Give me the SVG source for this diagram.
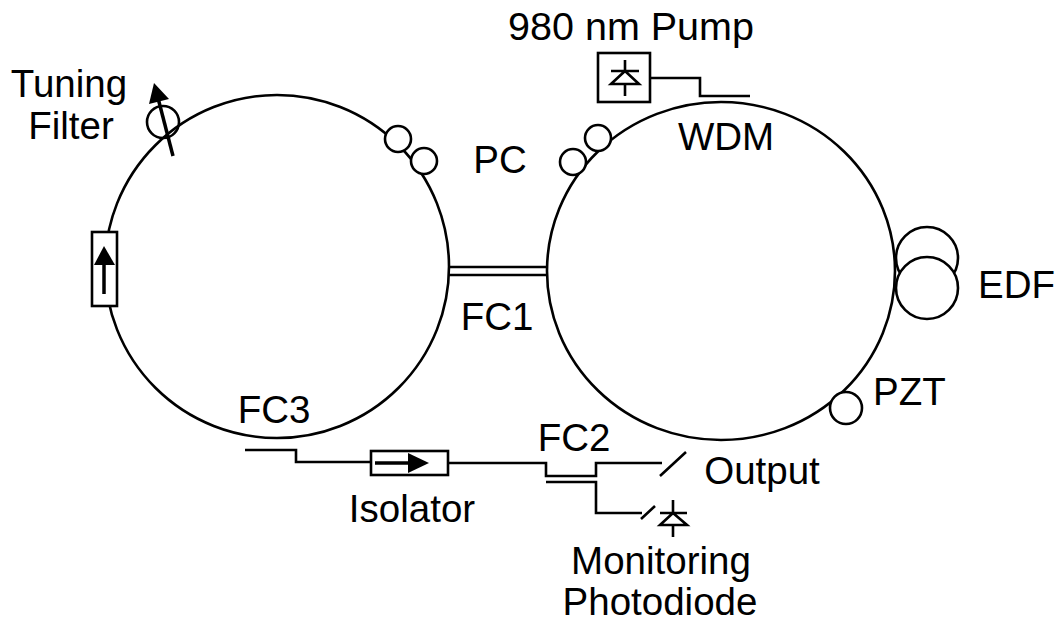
<svg xmlns="http://www.w3.org/2000/svg" width="1060" height="623" viewBox="0 0 1060 623">
<style>
.s{fill:none;stroke:#000;stroke-width:2.600}
.t{fill:none;stroke:#000;stroke-width:3.500}
.n{fill:#fff;stroke:#000;stroke-width:2.600}
.h{fill:#000;stroke:none}
text{font-family:"Liberation Sans",Arial,sans-serif;font-size:38.500px;fill:#000}
</style>
<rect width="1060" height="623" fill="#fff"/>
<g id="connectors">
<ellipse class="s" cx="277" cy="266.500" rx="172" ry="171.500"/>
<ellipse class="s" cx="721" cy="271" rx="174" ry="169"/>
<path class="s" d="M449 267H547M449 275H547"/>
<path class="s" d="M245 450H296V462H371M448 463H546V476H596V463H662M660 476L686 452"/>
<path class="s" d="M546 482H596V513H642M641 519L655 506"/>
<path class="s" d="M650 78H700V96H750"/>
</g>
<g id="tuning-filter"><circle class="s" cx="163" cy="122" r="16"/><path class="t" d="M173 156L158 98"/><path class="h" d="M154 83L169 99L149 104Z"/><text x="69" y="97" text-anchor="middle">Tuning</text><text x="71" y="139" text-anchor="middle">Filter</text></g>
<g id="left-isolator"><rect class="n" x="92" y="232" width="25" height="74"/><path class="t" d="M104 294V260"/><path class="h" d="M104 246L115 265H94Z"/></g>
<g id="pc-left"><circle class="n" cx="398" cy="139" r="13"/><circle class="n" cx="424" cy="161" r="13"/></g>
<g id="pc-right"><circle class="n" cx="598" cy="138" r="13"/><circle class="n" cx="573" cy="162" r="13"/><text x="500" y="173" text-anchor="middle">PC</text></g>
<g id="pump"><rect class="n" x="598" y="53" width="52" height="49"/><path class="s" d="M625 60V71M625 84V96M611 71H639M625 71L611 84H639Z"/><text x="631" y="40" text-anchor="middle" style="font-size:39.500px">980 nm Pump</text></g>
<g id="wdm"><text x="726" y="150" text-anchor="middle">WDM</text></g>
<g id="edf"><circle class="n" cx="927" cy="258" r="31"/><circle class="n" cx="927" cy="288" r="31"/><text x="978" y="298">EDF</text></g>
<g id="pzt"><circle class="n" cx="846" cy="408" r="16"/><text x="873" y="405">PZT</text></g>
<g id="fc1"><text x="497" y="330" text-anchor="middle">FC1</text></g>
<g id="fc3"><text x="274" y="423" text-anchor="middle">FC3</text></g>
<g id="fc2"><text x="574" y="451" text-anchor="middle">FC2</text></g>
<g id="isolator"><rect class="n" x="371" y="451" width="77" height="24"/><path class="t" d="M375 463H412"/><path class="h" d="M429 463L408 453V473Z"/><text x="412" y="522" text-anchor="middle">Isolator</text></g>
<g id="output"><text x="762" y="484" text-anchor="middle">Output</text></g>
<g id="photodiode"><path class="s" d="M673 500V513M673 525V537M660 513H687M673 513L660 525H687Z"/><text x="661" y="574" text-anchor="middle">Monitoring</text><text x="660" y="614.500" text-anchor="middle">Photodiode</text></g>
</svg>
